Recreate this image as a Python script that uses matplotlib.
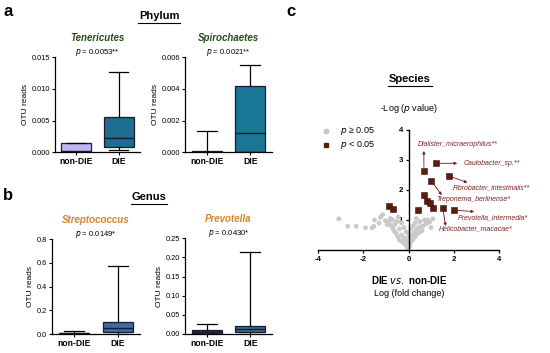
import matplotlib
matplotlib.use("Agg")
import matplotlib.pyplot as plt
from matplotlib.lines import Line2D
import numpy as np

plt.rcParams['font.family'] = ['Liberation Sans', 'DejaVu Sans']

groups = ["non-DIE", "DIE"]

# box stats per panel: [non-DIE, DIE]
ten_q1 = [0.0, 0.0008]
ten_med = [0.0002, 0.0022]
ten_q3 = [0.0015, 0.0056]
ten_lo = [0.0, 0.0004]
ten_hi = [0.0015, 0.0127]

spi_q1 = [0.0, 0.00005]
spi_med = [0.00003, 0.0012]
spi_q3 = [0.00008, 0.0042]
spi_lo = [0.0, 0.0]
spi_hi = [0.00133, 0.0055]

str_q1 = [0.003, 0.02]
str_med = [0.008, 0.05]
str_q3 = [0.012, 0.10]
str_lo = [0.0, 0.0]
str_hi = [0.03, 0.575]

pre_q1 = [0.001, 0.005]
pre_med = [0.005, 0.014]
pre_q3 = [0.010, 0.022]
pre_lo = [0.0, 0.0]
pre_hi = [0.025, 0.215]

# volcano: non-significant species (log fold change, -log p)
ns_x = [-3.08, -2.69, -2.31, -1.9, -1.61, -1.53, -1.5, -1.24, -1.14, -1.02,
        -0.87, -0.77, -0.69, -0.62, -0.54, -0.47, -0.4, -0.28, -0.18, -0.1,
        0.12, 0.19, 0.27, 0.37, 0.49, 0.63, 0.78, 0.93, 1.08,
        -0.6, -0.4, -0.3, -0.2, -0.1, 0.0, 0.1, 0.2, 0.3, 0.4, 0.5, 0.6,
        -0.5, -0.3, -0.2, 0.3, 0.2, 0.5, 0.7, -0.8, 0.1, -0.1, 0.0, 0.05, -0.05,
        -0.95, -0.7, -0.45, 0.85, 1.0, 0.35, -1.3, -0.02, 0.02]
ns_y = [1.04, 0.79, 0.79, 0.74, 0.74, 0.79, 1.0, 1.09, 1.18, 0.98,
        0.93, 0.82, 0.71, 0.62, 0.55, 0.44, 0.33, 0.27, 0.22, 0.16,
        0.38, 0.49, 0.6, 0.71, 0.77, 0.8, 0.87, 0.93, 1.04,
        0.85, 0.7, 0.5, 0.4, 0.3, 0.2, 0.25, 0.35, 0.45, 0.55, 0.6, 0.65,
        0.95, 0.9, 0.75, 0.9, 0.8, 0.95, 1.0, 1.05, 0.7, 0.6, 0.45, 0.12, 0.08,
        0.85, 1.0, 1.1, 1.0, 0.75, 1.05, 0.9, 0.3, 0.55]

# significant species
sig_x = [0.68, 1.22, 1.78, 1.0, 0.68, 0.83, 0.95, 1.08, 1.52, 2.0, 0.41, -0.88, -0.69]
sig_y = [2.64, 2.89, 2.47, 2.31, 1.83, 1.63, 1.56, 1.41, 1.39, 1.33, 1.33, 1.47, 1.36]

sp_names = ["Dialister_micraerophilus**", "Caulobacter_sp.**", "Fibrobacter_intestinalis**",
            "Treponema_berlinense*", "Prevotella_intermedia*", "Helicobacter_macacae*"]
sp_idx = [0, 1, 2, 3, 9, 8]
# label anchor (data coords) and arrow tip
lab_pos = [(0.4, 3.5), (2.43, 2.89), (1.96, 2.06), (1.22, 1.67), (2.18, 1.06), (1.33, 0.69)]
arr_tip = [(0.68, 3.3), (2.15, 2.89), (2.6, 2.25), (1.47, 1.83), (2.9, 1.28), (1.64, 0.8)]

W, H = 550, 353
fig = plt.figure(figsize=(5.5, 3.53), dpi=100)


def px_axes(l, t, r, b):
    return fig.add_axes([l / W, 1 - b / H, (r - l) / W, (b - t) / H])


def ftext(x, y, s, **kw):
    fig.text(x / W, 1 - y / H, s, **kw)


def uline(x0, x1, y):
    fig.add_artist(Line2D([x0 / W, x1 / W], [1 - y / H, 1 - y / H], color='black', lw=0.8))


def boxpanel(rect, q1, med, q3, lo, hi, colors, ylim, yticks, fmt, title, tcolor, ptext):
    ax = px_axes(*rect)
    stats = []
    for i in range(2):
        stats.append(dict(med=med[i], q1=q1[i], q3=q3[i], whislo=lo[i], whishi=hi[i], fliers=[]))
    bp = ax.bxp(stats, positions=[1, 2], widths=0.7, patch_artist=True, showfliers=False,
                capwidths=0.45,
                boxprops=dict(linewidth=0.9, edgecolor='#1a1a2a'),
                medianprops=dict(color='#1a1a2a', linewidth=1.0),
                whiskerprops=dict(color='black', linewidth=0.9),
                capprops=dict(color='black', linewidth=0.9))
    for p, c in zip(bp['boxes'], colors):
        p.set_facecolor(c)
    ax.set_xlim(0.5, 2.5)
    ax.set_ylim(*ylim)
    ax.set_yticks(yticks)
    ax.set_yticklabels([fmt.format(v) for v in yticks], fontsize=5.3)
    ax.set_xticks([1, 2])
    ax.set_xticklabels(groups, fontsize=6.2, fontweight='bold')
    ax.spines['top'].set_visible(False)
    ax.spines['right'].set_visible(False)
    for s in ['left', 'bottom']:
        ax.spines[s].set_linewidth(0.9)
    ax.tick_params(length=2, width=0.8, pad=1.5)
    ax.set_ylabel("OTU reads", fontsize=6, labelpad=2)
    cx = (rect[0] + rect[2]) / 2
    ftext(cx, rect[1] - 19, title, ha='center', va='center', fontsize=7, fontweight='bold',
          style='italic', color=tcolor)
    ftext(cx, rect[1] - 5, ptext, ha='center', va='center', fontsize=5.5)
    return ax


boxpanel((55, 57.3, 140, 152.3), ten_q1, ten_med, ten_q3, ten_lo, ten_hi,
         ['#bdb6f2', '#1d6e8f'], (0, 0.015), [0, 0.005, 0.010, 0.015], "{:.3f}",
         "Tenericutes", '#2c4a1c', "$p$ = 0.0053**")
boxpanel((185, 57.3, 272, 152.3), spi_q1, spi_med, spi_q3, spi_lo, spi_hi,
         ['#1d6e8f', '#1a7696'], (0, 0.006), [0, 0.002, 0.004, 0.006], "{:.3f}",
         "Spirochaetes", '#2c4a1c', "$p$ = 0.0021**")
boxpanel((52, 239, 140, 334.3), str_q1, str_med, str_q3, str_lo, str_hi,
         ['#2c3a5c', '#3a6ca4'], (0, 0.8), [0, 0.2, 0.4, 0.6, 0.8], "{:.1f}",
         "Streptococcus", '#d4862a', "$p$ = 0.0149*")
boxpanel((185, 238.3, 272, 334), pre_q1, pre_med, pre_q3, pre_lo, pre_hi,
         ['#2c3454', '#3a6a9c'], (0, 0.25), [0, 0.05, 0.10, 0.15, 0.20, 0.25], "{:.2f}",
         "Prevotella", '#d4862a', "$p$ = 0.0430*")

# panel letters and headings
ftext(3, 12, "a", fontsize=12, fontweight='bold', va='center')
ftext(3, 195, "b", fontsize=12, fontweight='bold', va='center')
ftext(286, 12, "c", fontsize=12, fontweight='bold', va='center')
ftext(159, 16, "Phylum", fontsize=8, fontweight='bold', ha='center', va='center')
uline(138, 180, 22.5)
ftext(149, 197, "Genus", fontsize=8, fontweight='bold', ha='center', va='center')
uline(131, 167, 203.5)
ftext(410, 79, "Species", fontsize=8, fontweight='bold', ha='center', va='center')
uline(388, 432, 85.5)
ftext(409, 108, "-Log ($p$ value)", fontsize=6.5, ha='center', va='center')

# volcano
ax = px_axes(318, 130, 499, 250)
ax.scatter(ns_x, ns_y, s=12, color='#c9c9c9', edgecolors='none', zorder=2, clip_on=False)
ax.scatter(sig_x, sig_y, s=14, marker='s', color='#5a1c0c', edgecolors='#3a1008',
           linewidths=0.4, zorder=3, clip_on=False)
for name, i, lp, tip in zip(sp_names, sp_idx, lab_pos, arr_tip):
    ax.annotate('', xy=tip, xytext=(sig_x[i], sig_y[i]),
                arrowprops=dict(arrowstyle='-|>', color='#6a1a1a', lw=0.6,
                                mutation_scale=4, shrinkA=2.5, shrinkB=0))
    ax.text(lp[0], lp[1], name, fontsize=5, style='italic', color='#7a2424',
            ha='left', va='center', clip_on=False)
ax.set_xlim(-4, 4)
ax.set_ylim(0, 4)
ax.spines['left'].set_position(('data', 0))
ax.spines['top'].set_visible(False)
ax.spines['right'].set_visible(False)
for s in ['left', 'bottom']:
    ax.spines[s].set_linewidth(1.0)
ax.set_xticks([-4, -2, 0, 2, 4])
ax.set_xticklabels(['-4', '-2', '0', '2', '4'], fontsize=5.6, fontweight='bold')
ax.set_yticks([1, 2, 3, 4])
ax.set_yticklabels(['1', '2', '3', '4'], fontsize=5.6, fontweight='bold')
ax.tick_params(length=2.5, width=0.9, pad=1.5)
ax.patch.set_visible(False)

# legend
fig.add_artist(Line2D([326 / W], [1 - 131 / H], marker='o', markersize=3.2, color='#c9c9c9',
                      linestyle='none'))
fig.add_artist(Line2D([326 / W], [1 - 145 / H], marker='s', markersize=3.4, color='#5a1c0c',
                      linestyle='none'))
ftext(340, 131, "$p$ \u2265 0.05", fontsize=6.5, va='center')
ftext(340, 145, "$p$ < 0.05", fontsize=6.5, va='center')

ftext(409, 280, "DIE $\\mathbf{\\it vs.}$ non-DIE", fontsize=7, fontweight='bold', ha='center', va='center')
ftext(409, 293, "Log (fold change)", fontsize=6.5, ha='center', va='center')

fig.savefig("out.png", dpi=100)
